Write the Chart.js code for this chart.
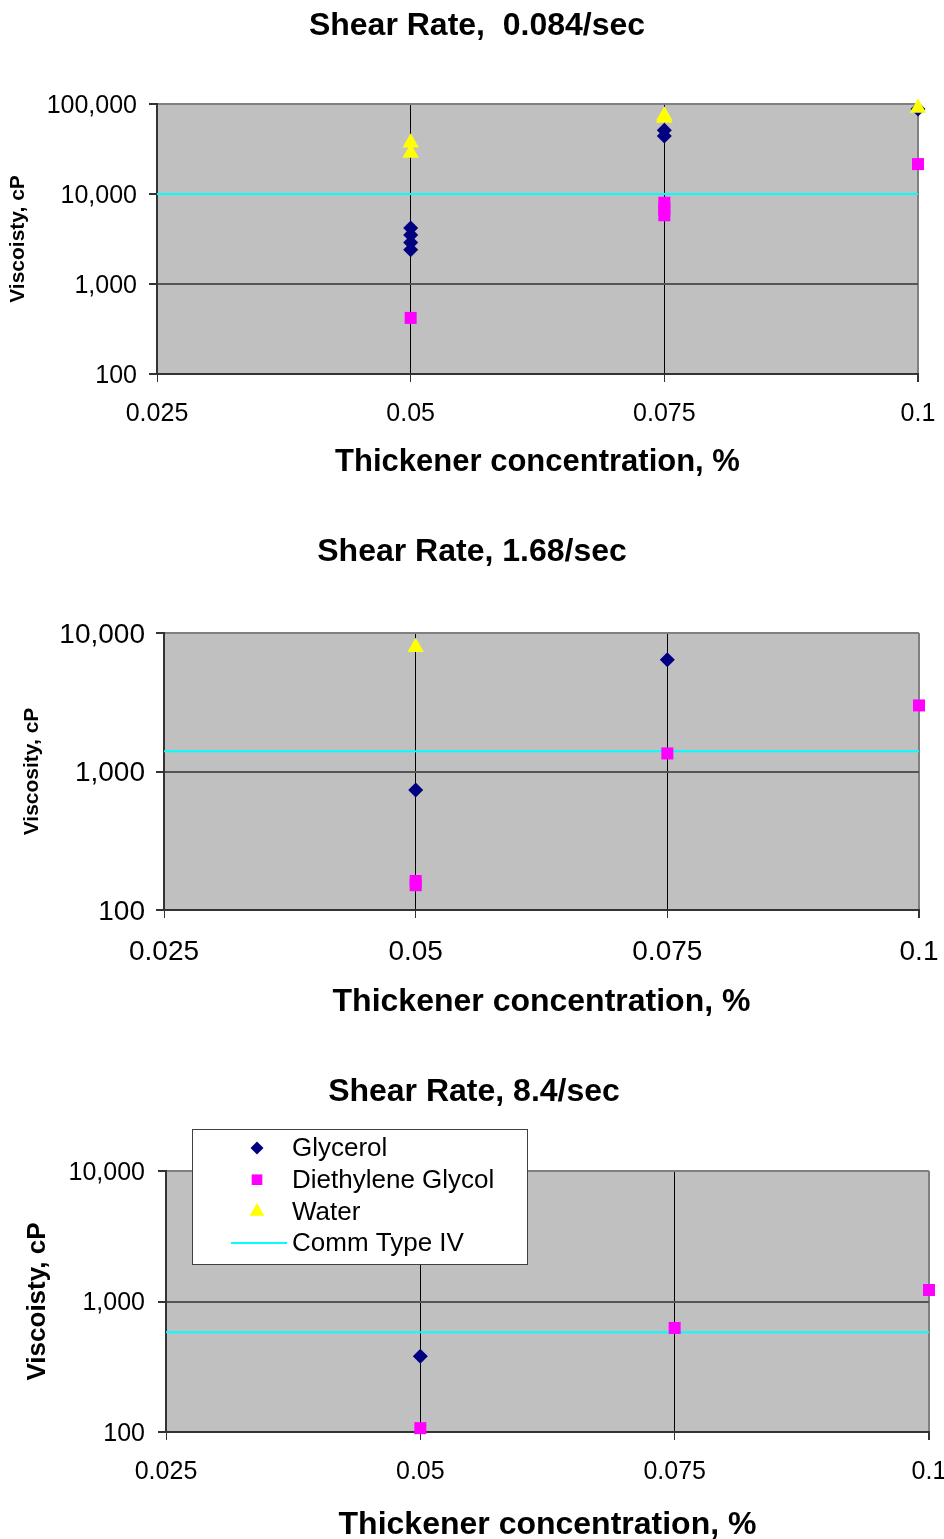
<!DOCTYPE html>
<html>

<head>
    <meta charset='utf-8'>
    <title>Viscosity vs thickener concentration</title>
    <script src="https://cdn.jsdelivr.net/npm/chart.js@4.4.1/dist/chart.umd.min.js"></script>
    <style>
        html, body { margin: 0; padding: 0; background: #fff; overflow: hidden; }
        canvas { position: absolute; left: 0; }
    </style>
</head>

<body>
    <canvas id="c1" width="944" height="490" style="top:0px"></canvas>
    <canvas id="c2" width="944" height="505" style="top:525px"></canvas>
    <canvas id="c3" width="944" height="478" style="top:1065px"></canvas>
    <script>
        Chart.defaults.font.family = "'Liberation Sans', Arial, sans-serif";
        Chart.defaults.color = '#000';

        // shared axes
        const xTicks = [0.025, 0.05, 0.075, 0.1];
        const names = ['Glycerol', 'Diethylene Glycol', 'Water', 'Comm Type IV'];

        // shear rate 0.084/sec
        const title1 = 'Shear Rate,  0.084/sec';
        const yTicks1 = [100, 1000, 10000, 100000];
        const glyX1 = [0.05, 0.05, 0.05, 0.05, 0.075, 0.075, 0.1];
        const glyY1 = [4200, 3500, 2900, 2400, 51000, 44000, 88000];
        const degX1 = [0.05, 0.075, 0.075, 0.075, 0.1];
        const degY1 = [420, 8000, 6800, 5800, 21500];
        const watX1 = [0.05, 0.05, 0.075, 0.075, 0.1];
        const watY1 = [37000, 28500, 74000, 70000, 90000];
        const comm1 = 10000;

        // shear rate 1.68/sec
        const title2 = 'Shear Rate, 1.68/sec';
        const yTicks2 = [100, 1000, 10000];
        const glyX2 = [0.05, 0.075];
        const glyY2 = [735, 6400];
        const degX2 = [0.05, 0.05, 0.075, 0.1];
        const degY2 = [162, 151, 1350, 3000];
        const watX2 = [0.05];
        const watY2 = [7900];
        const comm2 = 1400;

        // shear rate 8.4/sec
        const title3 = 'Shear Rate, 8.4/sec';
        const yTicks3 = [100, 1000, 10000];
        const glyX3 = [0.05];
        const glyY3 = [380];
        const degX3 = [0.05, 0.075, 0.1];
        const degY3 = [107, 627, 1225];
        const watX3 = [];
        const watY3 = [];
        const comm3 = 580;

        function pts(xs, ys) {
            return xs.map((x, i) => ({ x: x, y: ys[i] }));
        }

        // grey plot background
        const plotBg = {
            id: 'plotBg',
            beforeDraw(chart) {
                const a = chart.chartArea;
                chart.ctx.save();
                chart.ctx.fillStyle = '#C0C0C0';
                chart.ctx.fillRect(a.left, a.top, a.right - a.left, a.bottom - a.top);
                chart.ctx.restore();
            }
        };

        // boxed legend that sits over the top of the plot
        const legendBox = {
            id: 'legendBox',
            afterDraw(chart, args, o) {
                const ctx = chart.ctx;
                ctx.save();
                ctx.fillStyle = '#fff';
                ctx.fillRect(o.left, o.top, o.width, o.height);
                ctx.strokeStyle = '#404040';
                ctx.lineWidth = 1;
                ctx.strokeRect(o.left + 0.5, o.top + 0.5, o.width, o.height);
                ctx.font = o.size + "px 'Liberation Sans', Arial, sans-serif";
                ctx.textBaseline = 'middle';
                chart.data.datasets.forEach((ds, i) => {
                    const y = o.top + o.firstRow + i * o.rowGap;
                    if (ds.showLine) {
                        ctx.strokeStyle = ds.borderColor;
                        ctx.lineWidth = 2;
                        ctx.beginPath();
                        ctx.moveTo(o.lineFrom, y);
                        ctx.lineTo(o.lineTo, y);
                        ctx.stroke();
                    } else {
                        ctx.fillStyle = ds.backgroundColor;
                        Chart.helpers.drawPoint(ctx, {
                            pointStyle: ds.pointStyle, radius: ds.pointRadius - 1,
                            rotation: 0, borderWidth: 0
                        }, o.markerX, y);
                    }
                    ctx.fillStyle = '#000';
                    ctx.fillText(ds.label, o.textX, y + 1);
                });
                ctx.restore();
            }
        };

        function buildChart(id, d, L) {
            const yMax = d.yTicks[d.yTicks.length - 1];
            const plugins = [plotBg];
            if (L.legend) plugins.push(legendBox);
            return new Chart(document.getElementById(id), {
                type: 'scatter',
                data: {
                    datasets: [{
                        label: names[0],
                        data: pts(d.glyX, d.glyY),
                        pointStyle: 'rectRot',
                        pointRadius: 7.5,
                        backgroundColor: '#000080',
                        borderColor: '#000080',
                        pointBorderWidth: 0,
                        clip: false,
                        order: 3
                    }, {
                        label: names[1],
                        data: pts(d.degX, d.degY),
                        pointStyle: 'rect',
                        pointRadius: 8.5,
                        backgroundColor: '#FF00FF',
                        borderColor: '#FF00FF',
                        pointBorderWidth: 0,
                        clip: false,
                        order: 2
                    }, {
                        label: names[2],
                        data: pts(d.watX, d.watY),
                        pointStyle: 'triangle',
                        pointRadius: 9.5,
                        backgroundColor: '#FFFF00',
                        borderColor: '#FFFF00',
                        pointBorderWidth: 0,
                        clip: false,
                        order: 1
                    }, {
                        label: names[3],
                        data: [{ x: xTicks[0], y: d.comm }, { x: xTicks[xTicks.length - 1], y: d.comm }],
                        showLine: true,
                        borderColor: '#00FFFF',
                        backgroundColor: '#00FFFF',
                        borderWidth: 2,
                        pointRadius: 0,
                        order: 4
                    }]
                },
                options: {
                    responsive: false,
                    animation: false,
                    events: [],
                    layout: { padding: { left: L.padL, right: L.padR, top: 0, bottom: 0 } },
                    scales: {
                        x: {
                            type: 'linear',
                            min: xTicks[0],
                            max: xTicks[xTicks.length - 1],
                            afterBuildTicks: s => { s.ticks = xTicks.map(v => ({ value: v })); },
                            afterFit: s => {
                                s.height = L.axisH;
                                // the right edge comes from layout padding, not label overhang
                                s.paddingRight = 0;
                            },
                            ticks: { font: { size: L.xTickSize }, padding: 17, maxRotation: 0, callback: v => String(v) },
                            grid: {
                                color: c => (c.tick && c.tick.value === 0.1) ? '#808080' : '#000',
                                lineWidth: c => (c.tick && c.tick.value === 0.1) ? 2 : 1,
                                tickLength: 8,
                                tickColor: '#333'
                            },
                            border: { color: '#333', width: 2 },
                            title: {
                                display: true,
                                text: 'Thickener concentration, %',
                                font: { size: L.xTitleSize, weight: 'bold' },
                                padding: { top: 0, bottom: L.xTitlePad }
                            }
                        },
                        y: {
                            type: 'logarithmic',
                            min: d.yTicks[0],
                            max: yMax,
                            afterBuildTicks: s => { s.ticks = d.yTicks.map(v => ({ value: v })); },
                            afterFit: s => { s.width = L.axisW; },
                            ticks: {
                                font: { size: L.yTickSize }, padding: L.yTickPad, labelOffset: 2,
                                callback: v => Number(v).toLocaleString('en-US')
                            },
                            grid: {
                                color: c => (c.tick && c.tick.value === yMax) ? '#808080' : '#555',
                                lineWidth: 2,
                                tickLength: 8,
                                tickColor: '#333'
                            },
                            border: { color: '#333', width: 2 },
                            title: {
                                display: true,
                                text: d.yTitle,
                                font: { size: L.yTitleSize, weight: 'bold' },
                                padding: { top: L.yTitlePad, bottom: 0 }
                            }
                        }
                    },
                    plugins: {
                        legend: { display: false },
                        tooltip: { enabled: false },
                        title: {
                            display: true,
                            text: d.title,
                            font: { size: 32, weight: 'bold' },
                            padding: { top: L.titleTop, bottom: L.titleBottom }
                        },
                        legendBox: L.legend || {}
                    }
                },
                plugins: plugins
            });
        }

        buildChart('c1', {
            title: title1, yTitle: 'Viscoisty, cP', yTicks: yTicks1,
            glyX: glyX1, glyY: glyY1, degX: degX1, degY: degY1, watX: watX1, watY: watY1, comm: comm1
        }, {
            padL: 36, padR: 26, axisW: 121, axisH: 116,
            titleTop: 6.8, titleBottom: 58.8,
            yTitleSize: 21, yTitlePad: -30.6, yTickSize: 25, yTickPad: 12,
            xTickSize: 25, xTitleSize: 31, xTitlePad: 9
        });

        buildChart('c2', {
            title: title2, yTitle: 'Viscosity, cP', yTicks: yTicks2,
            glyX: glyX2, glyY: glyY2, degX: degX2, degY: degY2, watX: watX2, watY: watY2, comm: comm2
        }, {
            padL: 25, padR: 25, axisW: 139, axisH: 120,
            titleTop: 7.8, titleBottom: 61.8,
            yTitleSize: 21, yTitlePad: -5.6, yTickSize: 28, yTickPad: 11,
            xTickSize: 28, xTitleSize: 32, xTitlePad: 9
        });

        buildChart('c3', {
            title: title3, yTitle: 'Viscoisty, cP', yTicks: yTicks3,
            glyX: glyX3, glyY: glyY3, degX: degX3, degY: degY3, watX: watX3, watY: watY3, comm: comm3
        }, {
            padL: 19, padR: 15, axisW: 147, axisH: 111,
            titleTop: 7.8, titleBottom: 59.8,
            yTitleSize: 26, yTitlePad: 3.4, yTickSize: 25, yTickPad: 13,
            xTickSize: 25, xTitleSize: 32, xTitlePad: -1,
            legend: {
                left: 192, top: 64, width: 335, height: 135,
                firstRow: 19, rowGap: 31.7, markerX: 257, textX: 292,
                lineFrom: 231, lineTo: 287, size: 26
            }
        });
    </script>
</body>

</html>
